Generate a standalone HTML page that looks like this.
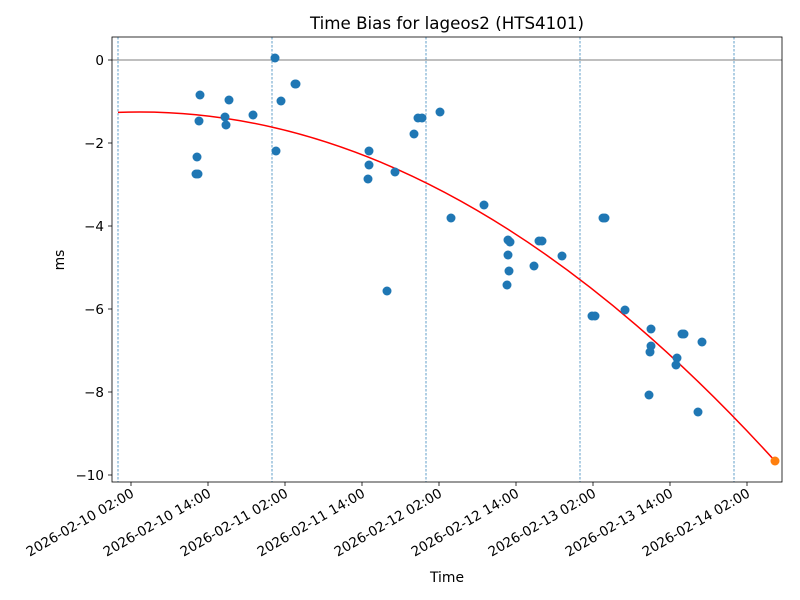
<!DOCTYPE html>
<html><head><meta charset="utf-8"><style>body{margin:0;background:#fff}svg{display:block;font-family:"DejaVu Sans","Liberation Sans",sans-serif}</style></head>
<body>
<svg width="800" height="600" viewBox="0 0 800 600" xmlns="http://www.w3.org/2000/svg">
<rect width="800" height="600" fill="#fff"/>
<text x="447" y="29" font-size="16.7" text-anchor="middle">Time Bias for lageos2 (HTS4101)</text>
<g stroke="#1f77b4" stroke-width="0.7" stroke-dasharray="2.5,1.5">
<line x1="118" y1="37" x2="118" y2="482"/><line x1="272" y1="37" x2="272" y2="482"/><line x1="426" y1="37" x2="426" y2="482"/><line x1="580" y1="37" x2="580" y2="482"/><line x1="734" y1="37" x2="734" y2="482"/>
</g>
<line x1="112" y1="60" x2="782" y2="60" stroke="#000" stroke-width="0.6"/>
<path d="M118 112.4 Q446.5 100 775 461" fill="none" stroke="red" stroke-width="1.5"/>
<g fill="#1f77b4">
<circle cx="196" cy="174" r="4.5"/><circle cx="198" cy="174" r="4.5"/><circle cx="197" cy="157" r="4.5"/><circle cx="199" cy="121" r="4.5"/><circle cx="200" cy="95" r="4.5"/><circle cx="229" cy="100" r="4.5"/><circle cx="225" cy="117" r="4.5"/><circle cx="226" cy="125" r="4.5"/><circle cx="253" cy="115" r="4.5"/><circle cx="275" cy="58" r="4.5"/><circle cx="276" cy="151" r="4.5"/><circle cx="281" cy="101" r="4.5"/><circle cx="295" cy="84" r="4.5"/><circle cx="296" cy="84" r="4.5"/><circle cx="369" cy="151" r="4.5"/><circle cx="369" cy="165" r="4.5"/><circle cx="368" cy="179" r="4.5"/><circle cx="395" cy="172" r="4.5"/><circle cx="387" cy="291" r="4.5"/><circle cx="414" cy="134" r="4.5"/><circle cx="418" cy="118" r="4.5"/><circle cx="422" cy="118" r="4.5"/><circle cx="440" cy="112" r="4.5"/><circle cx="451" cy="218" r="4.5"/><circle cx="484" cy="205" r="4.5"/><circle cx="508" cy="240" r="4.5"/><circle cx="510" cy="242" r="4.5"/><circle cx="508" cy="255" r="4.5"/><circle cx="509" cy="271" r="4.5"/><circle cx="507" cy="285" r="4.5"/><circle cx="534" cy="266" r="4.5"/><circle cx="539" cy="241" r="4.5"/><circle cx="542" cy="241" r="4.5"/><circle cx="562" cy="256" r="4.5"/><circle cx="592" cy="316" r="4.5"/><circle cx="595" cy="316" r="4.5"/><circle cx="603" cy="218" r="4.5"/><circle cx="605" cy="218" r="4.5"/><circle cx="625" cy="310" r="4.5"/><circle cx="651" cy="329" r="4.5"/><circle cx="651" cy="346" r="4.5"/><circle cx="650" cy="352" r="4.5"/><circle cx="649" cy="395" r="4.5"/><circle cx="677" cy="358" r="4.5"/><circle cx="676" cy="365" r="4.5"/><circle cx="682" cy="334" r="4.5"/><circle cx="684" cy="334" r="4.5"/><circle cx="698" cy="412" r="4.5"/><circle cx="702" cy="342" r="4.5"/>
</g>
<circle cx="775" cy="461" r="4.5" fill="#ff7f0e"/>
<rect x="112" y="37" width="670" height="445" fill="none" stroke="#000" stroke-width="0.8"/>
<g stroke="#000" stroke-width="0.8">
<line x1="108" y1="475" x2="112" y2="475"/><line x1="108" y1="392" x2="112" y2="392"/><line x1="108" y1="309" x2="112" y2="309"/><line x1="108" y1="226" x2="112" y2="226"/><line x1="108" y1="143" x2="112" y2="143"/><line x1="108" y1="60" x2="112" y2="60"/>
<line x1="131" y1="482" x2="131" y2="486"/><line x1="208" y1="482" x2="208" y2="486"/><line x1="285" y1="482" x2="285" y2="486"/><line x1="362" y1="482" x2="362" y2="486"/><line x1="439" y1="482" x2="439" y2="486"/><line x1="516" y1="482" x2="516" y2="486"/><line x1="593" y1="482" x2="593" y2="486"/><line x1="670" y1="482" x2="670" y2="486"/><line x1="747" y1="482" x2="747" y2="486"/>
</g>
<g font-size="13.5" text-anchor="end">
<text x="104" y="480">−10</text><text x="104" y="397">−8</text><text x="104" y="314">−6</text><text x="104" y="231">−4</text><text x="104" y="148">−2</text><text x="104" y="65">0</text>
<text transform="translate(135,496) rotate(-30)">2026-02-10 02:00</text>
<text transform="translate(212,496) rotate(-30)">2026-02-10 14:00</text>
<text transform="translate(289,496) rotate(-30)">2026-02-11 02:00</text>
<text transform="translate(366,496) rotate(-30)">2026-02-11 14:00</text>
<text transform="translate(443,496) rotate(-30)">2026-02-12 02:00</text>
<text transform="translate(520,496) rotate(-30)">2026-02-12 14:00</text>
<text transform="translate(597,496) rotate(-30)">2026-02-13 02:00</text>
<text transform="translate(674,496) rotate(-30)">2026-02-13 14:00</text>
<text transform="translate(751,496) rotate(-30)">2026-02-14 02:00</text>
</g>
<text x="447" y="582" font-size="13.9" text-anchor="middle">Time</text>
<text transform="translate(64,260) rotate(-90)" font-size="13.9" text-anchor="middle">ms</text>
</svg>
</body></html>
